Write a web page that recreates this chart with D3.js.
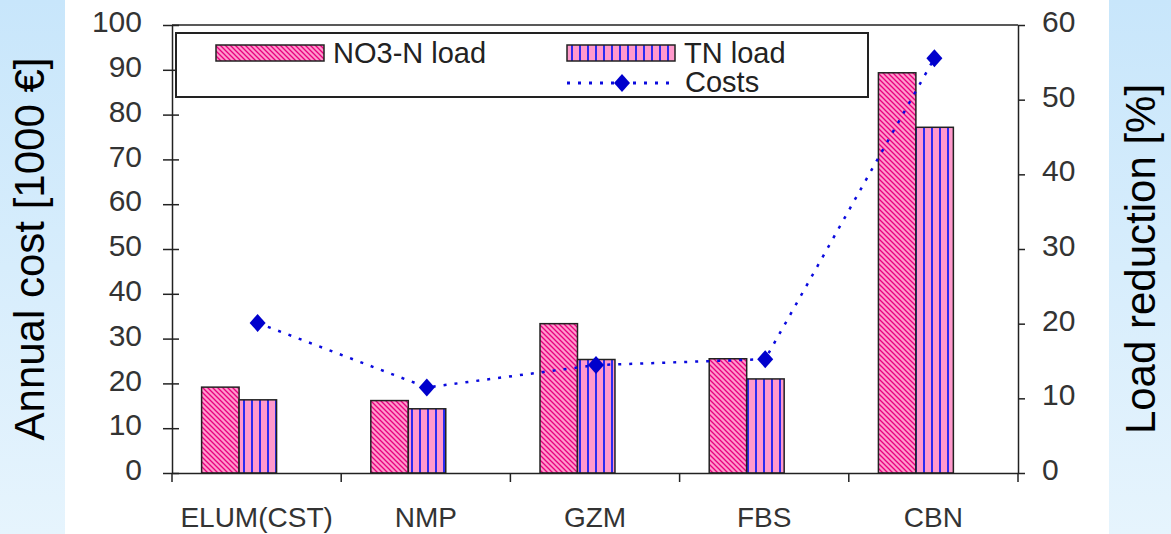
<!DOCTYPE html>
<html><head><meta charset="utf-8">
<script src="https://cdn.jsdelivr.net/npm/d3@7"></script>
<style>html,body{margin:0;padding:0;background:#fff;}svg{display:block;}</style>
</head><body>
<svg id="chart" width="1171" height="534"></svg>
<script>
const categories = ["ELUM(CST)", "NMP", "GZM", "FBS", "CBN"];
const no3Load = [11.5, 9.7, 20.0, 15.3, 53.6];   // Load reduction [%]
const tnLoad = [9.8, 8.6, 15.2, 12.6, 46.3];     // Load reduction [%]
const costs = [33.5, 19.1, 24.1, 25.4, 92.6];    // Annual cost [1000 €]
const leftTicks = [0, 10, 20, 30, 40, 50, 60, 70, 80, 90, 100];
const rightTicks = [0, 10, 20, 30, 40, 50, 60];
const seriesNames = ["NO3-N load", "TN load", "Costs"];

const svg = d3.select("#chart");
const font = "Liberation Sans, Arial, sans-serif";
const L = 172, R = 1018, T = 25, B = 473;

const defs = svg.append("defs");
const grad = defs.append("linearGradient").attr("id", "bg").attr("x1", 0).attr("y1", 0).attr("x2", 0).attr("y2", 1);
grad.append("stop").attr("offset", 0).attr("stop-color", "#c8e6fb");
grad.append("stop").attr("offset", 1).attr("stop-color", "#e6f4fd");

const p1 = defs.append("pattern").attr("id", "hatch").attr("patternUnits", "userSpaceOnUse").attr("width", 5).attr("height", 5);
p1.append("rect").attr("width", 5).attr("height", 5).attr("fill", "#ff99cc");
p1.append("path").attr("d", "M-1,-1 L6,6 M-1,4 L1,6 M4,-1 L6,1").attr("stroke", "#e8007e").attr("stroke-width", 1.3);

const p2 = defs.append("pattern").attr("id", "vstripe").attr("patternUnits", "userSpaceOnUse").attr("width", 8).attr("height", 8);
p2.append("rect").attr("width", 8).attr("height", 8).attr("fill", "#ff99cc");
p2.append("rect").attr("x", 3).attr("width", 2).attr("height", 8).attr("fill", "#2b2bf0");

// background panels
svg.append("rect").attr("x", 0).attr("y", 0).attr("width", 65).attr("height", 534).attr("fill", "url(#bg)");
svg.append("rect").attr("x", 1109).attr("y", 0).attr("width", 62).attr("height", 534).attr("fill", "url(#bg)");

const x = d3.scaleBand().domain(categories).range([L, R]).padding(0);
const bw = x.bandwidth();
const xi = d3.scaleBand().domain(["no3", "tn"]).range([bw * 0.175, bw * 0.618]).padding(0);
const yL = d3.scaleLinear().domain([0, 100]).range([B, T]);
const yR = d3.scaleLinear().domain([0, 60]).range([B, T]);

// top border
svg.append("line").attr("x1", L).attr("x2", R).attr("y1", T).attr("y2", T).attr("stroke", "#222").attr("stroke-width", 1.5);

// bars
const g = svg.append("g");
const barData = categories.map((c, i) => [
  {cat: c, key: "no3", v: no3Load[i]},
  {cat: c, key: "tn", v: tnLoad[i]}
]).flat();
g.selectAll("rect.bar").data(barData).enter().append("rect")
  .attr("class", "bar")
  .attr("x", d => x(d.cat) + xi(d.key))
  .attr("width", xi.bandwidth())
  .attr("y", d => yR(d.v))
  .attr("height", d => B - yR(d.v))
  .attr("fill", d => d.key === "no3" ? "url(#hatch)" : "url(#vstripe)")
  .attr("stroke", "#222").attr("stroke-width", 1.5);

// axes
const axL = svg.append("g").attr("transform", `translate(${L},0)`)
  .call(d3.axisLeft(yL).tickValues(leftTicks).tickSizeInner(9).tickSizeOuter(0).tickPadding(21));
axL.selectAll(".tick line").attr("x1", 7);
const axR = svg.append("g").attr("transform", `translate(${R},0)`)
  .call(d3.axisRight(yR).tickValues(rightTicks).tickSizeInner(7).tickSizeOuter(0).tickPadding(17));
const axB = svg.append("g").attr("transform", `translate(0,${B})`)
  .call(d3.axisBottom(x).tickSize(0).tickPadding(34));
axB.selectAll(".tick line").remove();
// category separators
svg.selectAll("line.sep").data(categories.concat(["end"])).enter().append("line")
  .attr("class", "sep")
  .attr("x1", (d, i) => i < categories.length ? x(d) : R)
  .attr("x2", (d, i) => i < categories.length ? x(d) : R)
  .attr("y1", B).attr("y2", B + 9).attr("stroke", "#222").attr("stroke-width", 1.5);

[axL, axR, axB].forEach(a => {
  a.selectAll("path.domain").attr("stroke", "#222").attr("stroke-width", 1.5);
  a.selectAll(".tick line").attr("stroke", "#222").attr("stroke-width", 1.5);
  a.selectAll("text").attr("font-family", font).attr("fill", "#333");
});
axL.selectAll("text").attr("font-size", 30).attr("dy", "0.22em");
axR.selectAll("text").attr("font-size", 30).attr("dy", "0.22em");
axB.selectAll("text").attr("font-size", 28);

// costs line
const cx = c => x(c) + bw / 2 + 1;
const line = d3.line().x((d, i) => cx(categories[i])).y(d => yL(d));
svg.append("path").datum(costs).attr("d", line).attr("fill", "none")
  .attr("stroke", "#0a0ade").attr("stroke-width", 2.5).attr("stroke-dasharray", "3,8");
const diamond = "M0,-9 L8,0 L0,9 L-8,0 Z";
svg.selectAll("path.mk").data(costs).enter().append("path").attr("class", "mk")
  .attr("d", diamond).attr("fill", "#0000cc")
  .attr("transform", (d, i) => `translate(${cx(categories[i])},${yL(d)})`);

// legend
const lg = svg.append("g");
lg.append("rect").attr("x", 176).attr("y", 33).attr("width", 692).attr("height", 64)
  .attr("fill", "#fff").attr("stroke", "#222").attr("stroke-width", 2);
lg.append("rect").attr("x", 216).attr("y", 45).attr("width", 108).attr("height", 16)
  .attr("fill", "url(#hatch)").attr("stroke", "#222").attr("stroke-width", 1.5);
lg.append("text").attr("x", 333).attr("y", 63).text(seriesNames[0]);
lg.append("rect").attr("x", 567).attr("y", 45).attr("width", 108).attr("height", 16)
  .attr("fill", "url(#vstripe)").attr("stroke", "#222").attr("stroke-width", 1.5);
lg.append("text").attr("x", 684).attr("y", 63).text(seriesNames[1]);
lg.append("line").attr("x1", 567).attr("x2", 675).attr("y1", 83).attr("y2", 83)
  .attr("stroke", "#0a0ade").attr("stroke-width", 3).attr("stroke-dasharray", "3,8");
lg.append("path").attr("d", diamond).attr("fill", "#0000cc").attr("transform", "translate(622,83)");
lg.append("text").attr("x", 685).attr("y", 92).text(seriesNames[2]);
lg.selectAll("text").attr("font-family", font).attr("font-size", 29).attr("fill", "#222");

// axis titles
svg.append("text").attr("transform", "translate(44,249) rotate(-90)").attr("text-anchor", "middle")
  .attr("font-family", font).attr("font-size", 42).attr("fill", "#000").text("Annual cost [1000 €]");
svg.append("text").attr("transform", "translate(1155,259) rotate(-90)").attr("text-anchor", "middle")
  .attr("font-family", font).attr("font-size", 42).attr("fill", "#000").text("Load reduction [%]");
</script>
</body></html>
